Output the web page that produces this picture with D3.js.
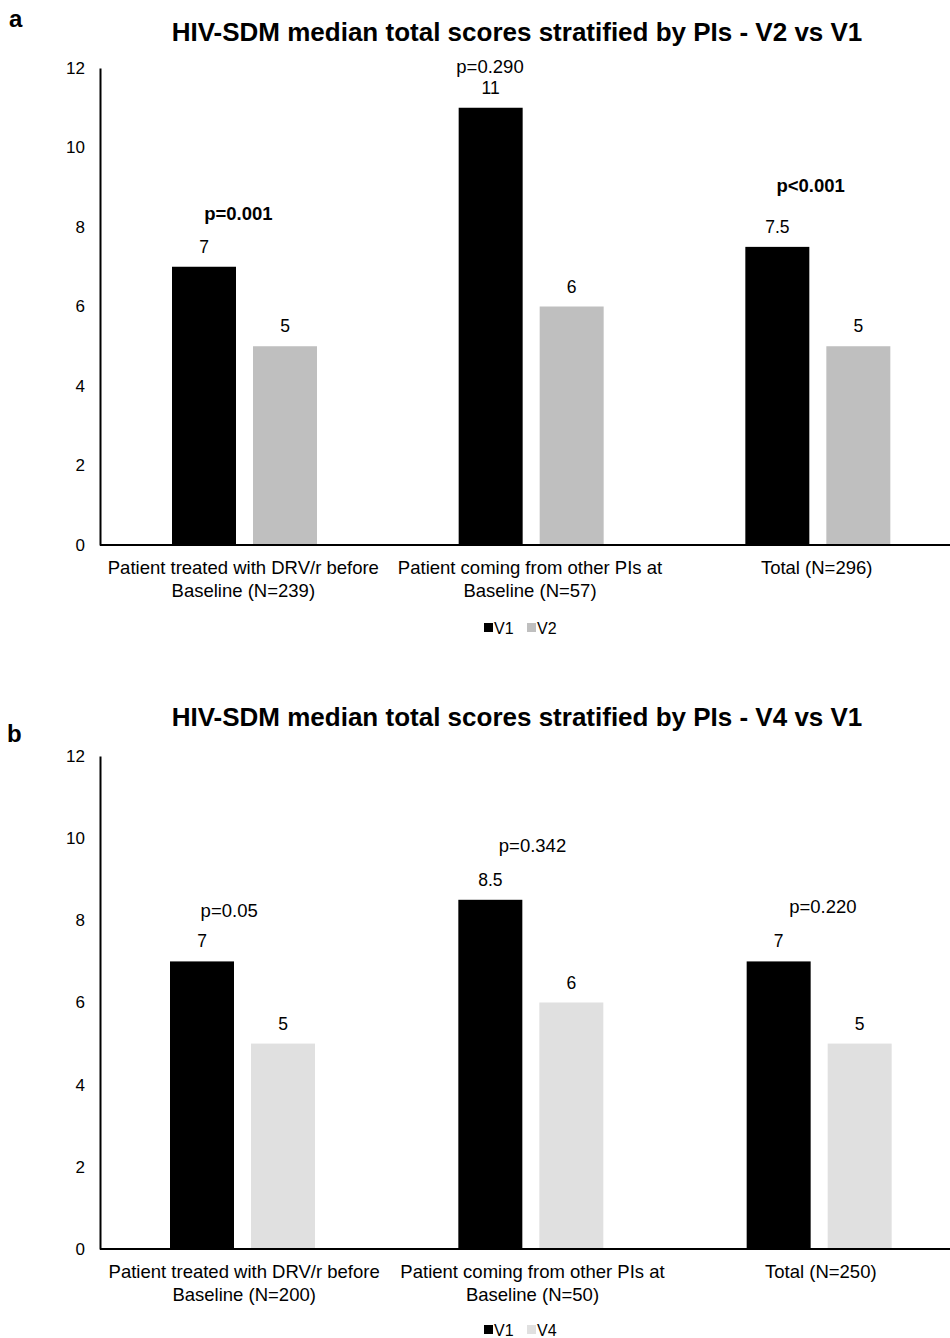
<!DOCTYPE html>
<html>
<head>
<meta charset="utf-8">
<script src="https://cdn.jsdelivr.net/npm/d3@7/dist/d3.min.js"></script>
<style>
  html, body { margin: 0; padding: 0; background: #fff; }
  svg { display: block; font-family: "Liberation Sans", Arial, sans-serif; }
</style>
</head>
<body>
<svg id="chart" width="950" height="1338"></svg>
<script>
// Median HIV-SDM total scores by protease-inhibitor group
const seriesA = ["V1", "V2"];
const seriesB = ["V1", "V4"];
const categoriesA = [
  ["Patient treated with DRV/r before", "Baseline (N=239)"],
  ["Patient coming from other PIs at", "Baseline (N=57)"],
  ["Total (N=296)"]
];
const categoriesB = [
  ["Patient treated with DRV/r before", "Baseline (N=200)"],
  ["Patient coming from other PIs at", "Baseline (N=50)"],
  ["Total (N=250)"]
];
const v1A = [7, 11, 7.5];
const v2A = [5, 6, 5];
const v1B = [7, 8.5, 7];
const v4B = [5, 6, 5];
const pLabelsA = ["p=0.001", "p=0.290", "p<0.001"];
const pBoldA = [true, false, true];
const pLabelsB = ["p=0.05", "p=0.342", "p=0.220"];
const pBoldB = [false, false, false];
const yTicks = [0, 2, 4, 6, 8, 10, 12];
const titleA = "HIV-SDM median total scores stratified by PIs - V2 vs V1";
const titleB = "HIV-SDM median total scores stratified by PIs - V4 vs V1";

const FONT = "'Liberation Sans', Arial, sans-serif";
const svg = d3.select("#chart");

function drawPanel(o) {
  const g = svg.append("g");
  const y = d3.scaleLinear().domain([0, 12]).range([o.y0, o.y12]);
  const x = d3.scaleBand().domain(d3.range(o.cats.length)).range([o.xLeft, o.xRight]).paddingInner(0).paddingOuter(0);
  const xs = d3.scaleBand().domain(o.series).range([o.subStart, o.subStart + 145]).paddingInner(0.21).paddingOuter(0);

  // panel letter and title
  svg.append("text").attr("x", o.letterX).attr("y", o.letterY)
    .attr("font-size", 24).attr("font-weight", "bold").text(o.letter);
  svg.append("text").attr("x", 517).attr("y", o.titleY).attr("text-anchor", "middle")
    .attr("font-size", 26).attr("font-weight", "bold").text(o.title);

  // y axis
  const yAxis = d3.axisLeft(y).tickValues(yTicks).tickSize(0).tickPadding(15);
  const ya = g.append("g").attr("transform", `translate(${o.xLeft},0)`).call(yAxis);
  ya.attr("font-size", 17).attr("font-family", FONT);
  ya.select(".domain").attr("stroke", "#000").attr("stroke-width", 2);
  ya.selectAll(".tick text").attr("fill", "#000");

  // bars with value labels
  const colors = [o.colA, o.colB];
  o.cats.forEach((c, i) => {
    const vals = [o.a[i], o.b[i]];
    vals.forEach((v, k) => {
      const bx = x(i) + xs(o.series[k]);
      g.append("rect")
        .attr("x", bx).attr("y", y(v))
        .attr("width", xs.bandwidth()).attr("height", y(0) - y(v))
        .attr("fill", colors[k]);
      g.append("text")
        .attr("x", bx + xs.bandwidth() / 2).attr("y", y(v) - 14)
        .attr("text-anchor", "middle").attr("font-size", 17.5).text(v);
    });
    // p-value annotation
    g.append("text")
      .attr("x", x(i) + x.bandwidth() / 2 + o.pDx[i])
      .attr("y", y(vals[0]) + o.pDy[i])
      .attr("text-anchor", "middle").attr("font-size", 18.5)
      .attr("font-weight", o.pBold[i] ? "bold" : "normal")
      .text(o.pLabels[i]);
  });

  // x axis baseline
  g.append("line").attr("x1", o.xLeft).attr("x2", 950).attr("y1", y(0)).attr("y2", y(0))
    .attr("stroke", "#000").attr("stroke-width", 2);

  // category labels
  o.cats.forEach((lines, i) => {
    const cx = x(i) + x.bandwidth() / 2;
    const t = g.append("text").attr("text-anchor", "middle").attr("font-size", 18.5)
      .attr("x", cx).attr("y", y(0) + 29);
    lines.forEach((ln, j) => {
      t.append("tspan").attr("x", cx).attr("dy", j === 0 ? 0 : 22.5).text(ln);
    });
  });

  // legend
  const lg = g.append("g").attr("transform", `translate(484,${o.legendY})`);
  o.series.forEach((s, k) => {
    const gx = k * 43;
    lg.append("rect").attr("x", gx).attr("y", -5).attr("width", 9).attr("height", 9).attr("fill", colors[k]);
    lg.append("text").attr("x", gx + 10).attr("y", 6).attr("font-size", 16).text(s);
  });
}

drawPanel({
  letter: "a", letterX: 9, letterY: 27, title: titleA, titleY: 41,
  y0: 545, y12: 68, xLeft: 100, xRight: 960, subStart: 72,
  cats: categoriesA, series: seriesA, a: v1A, b: v2A,
  colA: "#000000", colB: "#bfbfbf",
  pLabels: pLabelsA, pBold: pBoldA, pDx: [-5, -40, -6], pDy: [-47, -35, -55],
  legendY: 628
});

drawPanel({
  letter: "b", letterX: 7, letterY: 742, title: titleB, titleY: 726,
  y0: 1249, y12: 756, xLeft: 100, xRight: 965, subStart: 70,
  cats: categoriesB, series: seriesB, a: v1B, b: v4B,
  colA: "#000000", colB: "#e0e0e0",
  pLabels: pLabelsB, pBold: pBoldB, pDx: [-15, 0, 2], pDy: [-44, -48, -48],
  legendY: 1330
});
</script>
</body>
</html>
